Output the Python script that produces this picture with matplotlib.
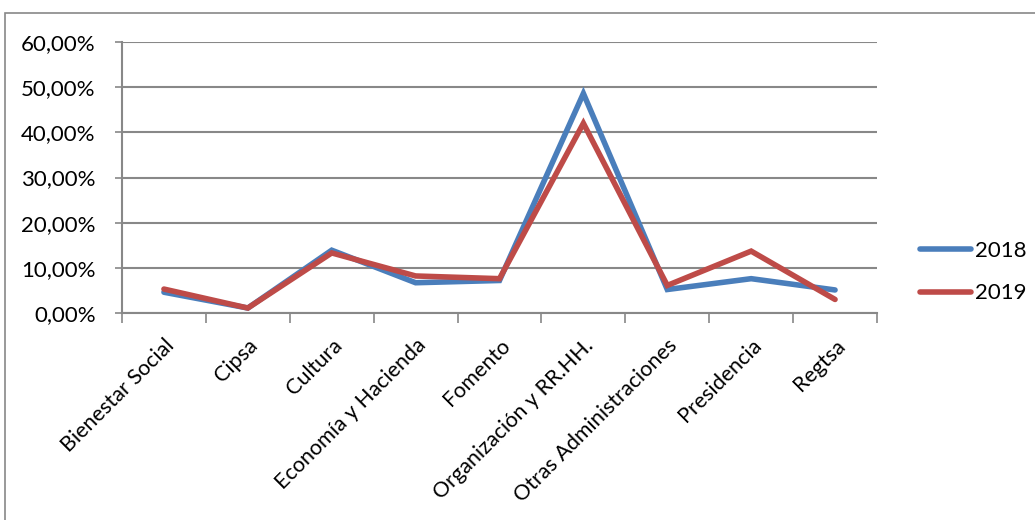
import matplotlib
matplotlib.use("Agg")
import matplotlib.pyplot as plt
from matplotlib.patches import Rectangle
from matplotlib.ticker import FuncFormatter
import numpy as np

categories = ["Bienestar Social", "Cipsa", "Cultura", "Economía y Hacienda", "Fomento",
              "Organización y RR.HH.", "Otras Administraciones", "Presidencia", "Regtsa"]
v2018 = [4.6, 1.1, 13.9, 6.7, 7.2, 48.6, 5.2, 7.6, 5.1]
v2019 = [5.3, 1.1, 13.3, 8.2, 7.6, 42.0, 6.1, 13.7, 3.0]

plt.rcParams['font.family'] = ['Lato', 'DejaVu Sans']

fig = plt.figure(figsize=(10.35, 5.2), dpi=100)
ax = fig.add_axes([122/1035, 1-313/520, (877-122)/1035, (313-42)/520])

# outer chart border
fig.patches.append(Rectangle((5/1035, -0.05), 1.0, 1.05 - 13/520, transform=fig.transFigure,
                             fill=False, edgecolor='#888888', linewidth=1.2))

x = np.arange(len(categories))
ax.plot(x, v2018, color='#4a7ebb', linewidth=4, solid_capstyle='round', solid_joinstyle='miter', label='2018')
ax.plot(x, v2019, color='#be4b48', linewidth=4, solid_capstyle='round', solid_joinstyle='miter', label='2019')

ax.set_xlim(-0.5, len(categories) - 0.5)
ax.set_ylim(0, 60)
ax.set_yticks(np.arange(0, 61, 10))
ax.yaxis.set_major_formatter(FuncFormatter(lambda v, p: f"{v:.2f}%".replace('.', ',')))
ax.grid(axis='y', color='#888888', linewidth=1.5)
ax.set_axisbelow(True)

ax.set_xticks(np.arange(-0.5, len(categories), 1.0))
ax.set_xticklabels([])
ax.set_xticks(x, minor=True)
ax.set_xticklabels(categories, minor=True, rotation=45, ha='right', rotation_mode='anchor', fontsize=15.5)
ax.tick_params(axis='x', which='major', length=7, width=1.2, color='#888888', direction='out')
ax.tick_params(axis='x', which='minor', length=0, pad=16)
ax.tick_params(axis='y', length=5, width=1.2, color='#888888', labelsize=16, pad=14)

for s in ['top', 'right']:
    ax.spines[s].set_visible(False)
for s in ['left', 'bottom']:
    ax.spines[s].set_color('#888888')
    ax.spines[s].set_linewidth(1.5)

ax.legend(loc='center left', bbox_to_anchor=(1.03, 0.15), frameon=False, fontsize=16,
          handlelength=2.3, labelspacing=1.0, handletextpad=0.2)

fig.savefig("out.png", dpi=100)
